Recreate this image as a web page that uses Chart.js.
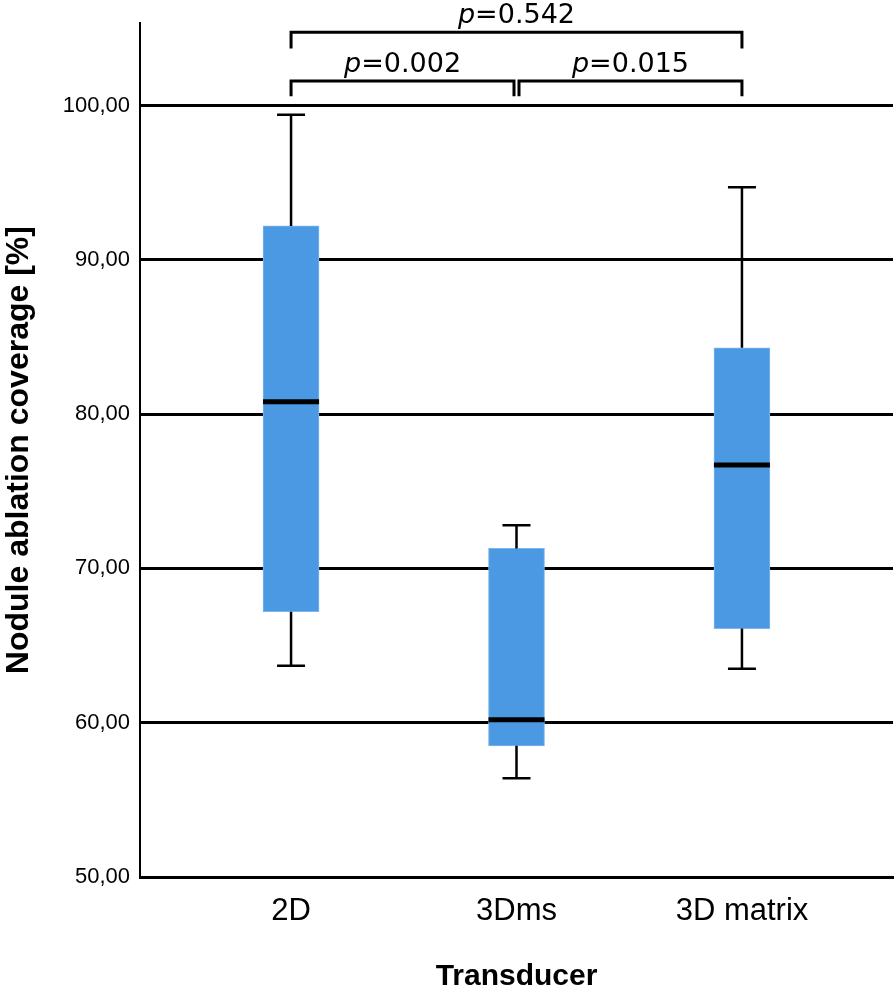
<!DOCTYPE html>
<html>
<head>
<meta charset="utf-8">
<script src="https://cdn.jsdelivr.net/npm/chart.js@4"></script>
<style>
  body { margin: 0; background: #fff; }
  #wrap { width: 896px; height: 992px; }
</style>
</head>
<body>
<div id="wrap"><canvas id="boxChart"></canvas></div>
<script>
// Box plot values (%)
const categories = ['2D', '3Dms', '3D matrix'];
const whiskerLow = [63.7, 56.4, 63.5];
const q1 = [67.2, 58.5, 66.1];
const median = [80.8, 60.2, 76.7];
const q3 = [92.2, 71.3, 84.3];
const whiskerHigh = [99.4, 72.8, 94.7];
const yTicks = [50, 60, 70, 80, 90, 100];

// pairwise comparisons (category indices) and their p-values
const pairs = [[0, 1], [1, 2], [0, 2]];
const pValues = ['0.002', '0.015', '0.542'];

const boxFill = '#4c99e3';

// whiskers, caps, medians and the significance brackets
const boxExtras = {
  id: 'boxExtras',
  afterDatasetsDraw(chart) {
    const ctx = chart.ctx;
    const x = chart.scales.x, y = chart.scales.y;
    ctx.save();
    ctx.strokeStyle = '#000';
    ctx.fillStyle = '#000';

    categories.forEach((c, i) => {
      const cx = x.getPixelForValue(i);
      ctx.lineWidth = 2.5;
      ctx.beginPath();
      ctx.moveTo(cx, y.getPixelForValue(q3[i]));
      ctx.lineTo(cx, y.getPixelForValue(whiskerHigh[i]));
      ctx.moveTo(cx, y.getPixelForValue(q1[i]));
      ctx.lineTo(cx, y.getPixelForValue(whiskerLow[i]));
      // caps
      ctx.moveTo(cx - 14, y.getPixelForValue(whiskerHigh[i]));
      ctx.lineTo(cx + 14, y.getPixelForValue(whiskerHigh[i]));
      ctx.moveTo(cx - 14, y.getPixelForValue(whiskerLow[i]));
      ctx.lineTo(cx + 14, y.getPixelForValue(whiskerLow[i]));
      ctx.stroke();
      // median
      ctx.lineWidth = 5;
      ctx.beginPath();
      ctx.moveTo(cx - 28, y.getPixelForValue(median[i]));
      ctx.lineTo(cx + 28, y.getPixelForValue(median[i]));
      ctx.stroke();
    });

    // brackets: adjacent pairs on the lower level, wide one above
    pairs.forEach((p, k) => {
      const wide = p[1] - p[0] > 1;
      const level = y.getPixelForValue(wide ? 104.75 : 101.6);
      const drop = y.getPixelForValue(wide ? 103.7 : 100.6);
      let x1 = x.getPixelForValue(p[0]);
      let x2 = x.getPixelForValue(p[1]);
      if (p[0] > 0 && p[0] < categories.length - 1) x1 += 2.5;
      if (p[1] > 0 && p[1] < categories.length - 1) x2 -= 2.5;
      ctx.lineWidth = 3;
      ctx.lineJoin = 'miter';
      ctx.beginPath();
      ctx.moveTo(x1, drop);
      ctx.lineTo(x1, level);
      ctx.lineTo(x2, level);
      ctx.lineTo(x2, drop);
      ctx.stroke();

      // label: italic p, then "=value"
      const italic = 'italic 27px "DejaVu Sans"';
      const normal = '27px "DejaVu Sans"';
      const rest = '=' + pValues[k];
      ctx.font = italic;
      const wp = ctx.measureText('p').width;
      ctx.font = normal;
      const wr = ctx.measureText(rest).width;
      const start = (x1 + x2) / 2 - (wp + wr) / 2;
      ctx.textBaseline = 'alphabetic';
      ctx.textAlign = 'left';
      ctx.font = italic;
      ctx.fillText('p', start, level - 9);
      ctx.font = normal;
      ctx.fillText(rest, start + wp, level - 9);
    });
    ctx.restore();
  }
};

const ctx = document.getElementById('boxChart').getContext('2d');
new Chart(ctx, {
  type: 'bar',
  data: {
    datasets: [{
      label: 'Nodule ablation coverage',
      data: categories.map((c, i) => ({ x: i, y: [q1[i], q3[i]] })),
      backgroundColor: boxFill,
      borderColor: '#7db6ee',
      borderWidth: 1,
      borderSkipped: false,
      barThickness: 56
    }]
  },
  options: {
    responsive: true,
    maintainAspectRatio: false,
    animation: false,
    layout: { padding: { top: 17, right: 3, left: 0, bottom: 0 } },
    plugins: {
      legend: { display: false },
      tooltip: { enabled: false }
    },
    scales: {
      x: {
        type: 'linear',
        offset: false,
        min: -0.67,
        max: 2.67,
        afterBuildTicks: s => { s.ticks = categories.map((c, i) => ({ value: i })); },
        afterFit: s => { s.height = 115; },
        grid: { display: false, drawTicks: false },
        border: { color: '#000', width: 3 },
        ticks: {
          autoSkip: false,
          maxRotation: 0,
          padding: 16,
          color: '#000',
          font: { family: '"Liberation Sans", Arial', size: 31 },
          callback: v => categories[v]
        },
        title: {
          display: true,
          text: 'Transducer',
          color: '#000',
          font: { family: '"Liberation Sans", Arial', size: 30, weight: 'bold', lineHeight: 1 },
          padding: { top: 0, bottom: 0 }
        }
      },
      y: {
        min: 50,
        max: 105.34,
        afterBuildTicks: s => { s.ticks = yTicks.map(v => ({ value: v })); },
        afterFit: s => { s.width = 140; },
        grid: { color: '#000', lineWidth: 3, drawTicks: false },
        border: { color: '#000', width: 2 },
        ticks: {
          padding: 10,
          color: '#000',
          font: { family: '"Liberation Sans", Arial', size: 22 },
          callback: v => v.toFixed(2).replace('.', ',')
        },
        title: {
          display: true,
          text: 'Nodule ablation coverage [%]',
          color: '#000',
          font: { family: '"Liberation Sans", Arial', size: 32, weight: 'bold', lineHeight: 1.2 },
          padding: { top: 0, bottom: 0 }
        }
      }
    }
  },
  plugins: [boxExtras]
});
</script>
</body>
</html>
